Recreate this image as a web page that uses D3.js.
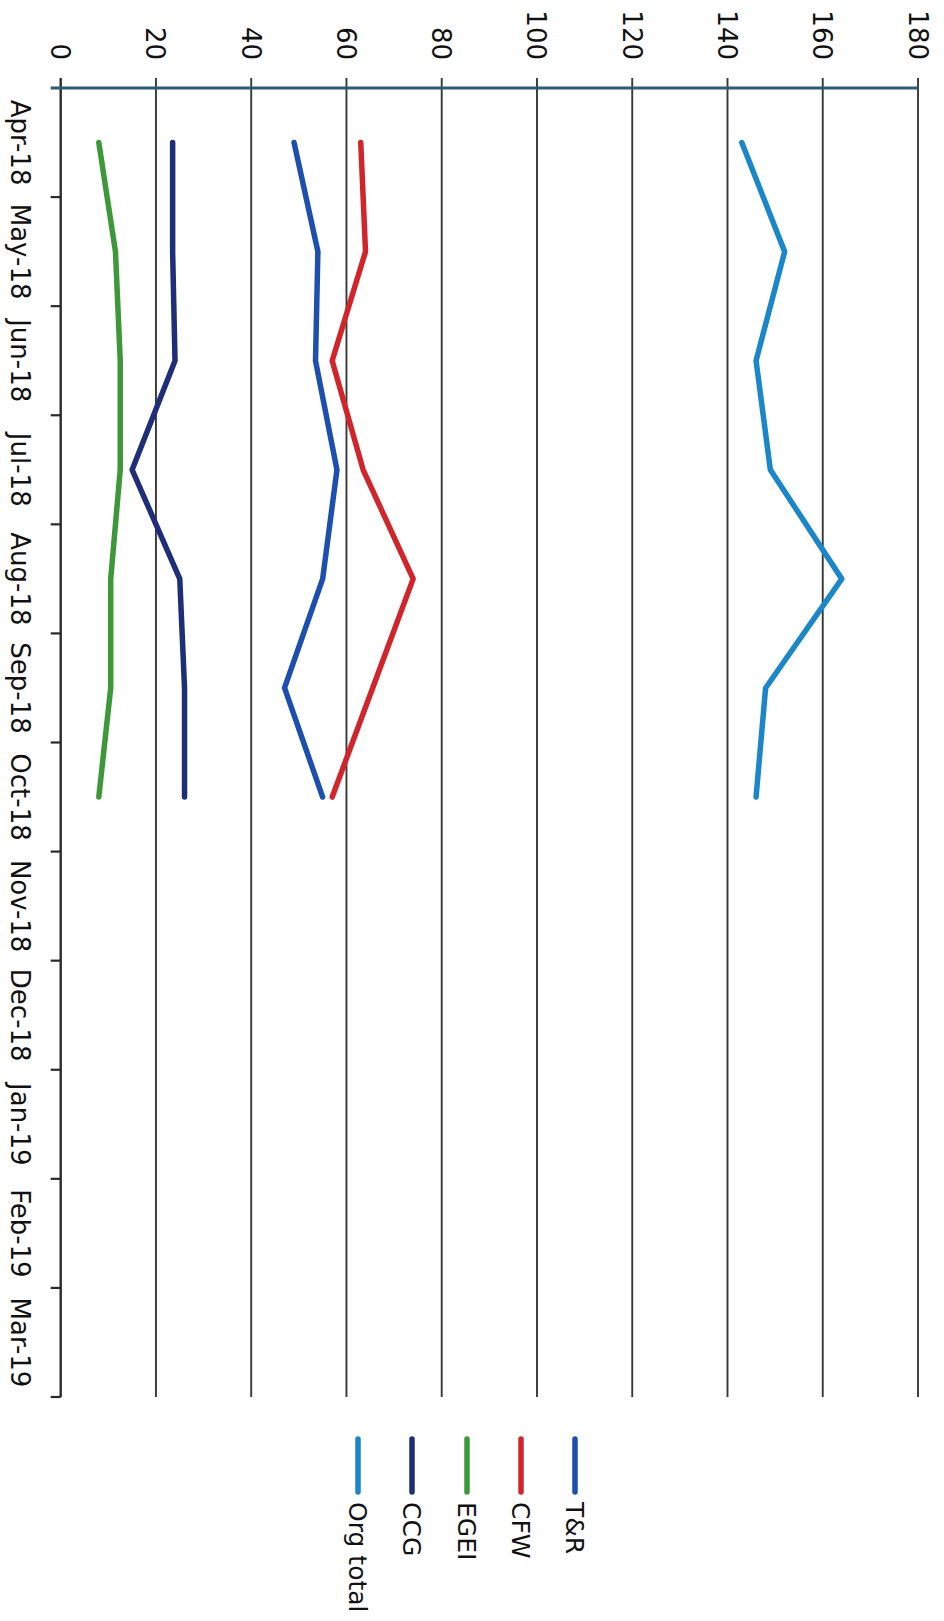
<!DOCTYPE html>
<html>
<head>
<meta charset="utf-8">
<script src="https://cdn.jsdelivr.net/npm/d3@7/dist/d3.min.js"></script>
<style>
  html, body { margin: 0; padding: 0; background: #fff; }
  svg { display: block; }
  text { font-family: "DejaVu Sans", sans-serif; fill: #111; }
</style>
</head>
<body>
<svg id="chart" width="944" height="1621"></svg>
<script>
// Monthly headcount by team, drawn turned a quarter clockwise:
// months run down the page, values run across.
const months = ["Apr-18", "May-18", "Jun-18", "Jul-18", "Aug-18", "Sep-18",
                "Oct-18", "Nov-18", "Dec-18", "Jan-19", "Feb-19", "Mar-19"];
const valueTicks = [0, 20, 40, 60, 80, 100, 120, 140, 160, 180];

const seriesNames = ["T&R", "CFW", "EGEI", "CCG", "Org total"];
const seriesColors = ["#1d4fae", "#d1252c", "#3d983a", "#1f2e78", "#1b87c8"];

const tandR    = [49, 54, 53.5, 58, 55, 47, 55, null, null, null, null, null];
const cfw      = [63, 64, 57, 63.5, 74, 65.5, 57, null, null, null, null, null];
const egei     = [8, 11.5, 12.5, 12.5, 10.5, 10.5, 8, null, null, null, null, null];
const ccg      = [23.5, 23.5, 24, 15, 25, 26, 26, null, null, null, null, null];
const orgTotal = [143, 152, 146, 149, 164, 148, 146, null, null, null, null, null];

const seriesValues = [tandR, cfw, egei, ccg, orgTotal];

const svg = d3.select("#chart");
svg.append("rect").attr("width", 944).attr("height", 1621).attr("fill", "#fff");

const plotTop = 88, plotBottom = 1397;
const x = d3.scaleLinear().domain([0, 180]).range([60.7, 918]);
const y = d3.scaleBand().domain(months).range([plotTop, plotBottom]).padding(0);
const yc = m => y(m) + y.bandwidth() / 2;

// Value gridlines (with short outside ticks above the axis line)
svg.append("g").selectAll("line").data(valueTicks.slice(1)).join("line")
  .attr("x1", d => x(d)).attr("x2", d => x(d))
  .attr("y1", plotTop - 10).attr("y2", plotBottom)
  .attr("stroke", "#383838").attr("stroke-width", 1.9);

// Value tick labels, reading downward
svg.append("g").selectAll("text").data(valueTicks).join("text")
  .attr("transform", d => `translate(${x(d) - 9.5},60) rotate(90)`)
  .attr("text-anchor", "end")
  .attr("font-size", 26)
  .text(d => d);

// Category axis line with ticks at band boundaries
const catAxis = svg.append("g");
catAxis.append("line")
  .attr("x1", x(0)).attr("x2", x(0))
  .attr("y1", plotTop - 10).attr("y2", plotBottom)
  .attr("stroke", "#2a2a2a").attr("stroke-width", 2.4);
const bounds = months.map(m => y(m)).concat([plotBottom]);
catAxis.selectAll("line.tk").data(bounds.slice(1)).join("line")
  .attr("class", "tk")
  .attr("x1", x(0) - 10).attr("x2", x(0))
  .attr("y1", d => d).attr("y2", d => d)
  .attr("stroke", "#2a2a2a").attr("stroke-width", 2.2);

// Value axis line across the top
svg.append("line")
  .attr("x1", x(0) - 10).attr("x2", x(180))
  .attr("y1", plotTop).attr("y2", plotTop)
  .attr("stroke", "#2f5c74").attr("stroke-width", 3.2);

// Month labels
svg.append("g").selectAll("text").data(months).join("text")
  .attr("transform", d => `translate(11,${yc(d)}) rotate(90)`)
  .attr("text-anchor", "middle")
  .attr("font-size", 26)
  .text(d => d);

// Series lines
const line = d3.line()
  .defined(d => d.v != null)
  .x(d => x(d.v))
  .y(d => yc(d.m));

seriesNames.forEach((name, i) => {
  const pts = months.map((m, j) => ({ m, v: seriesValues[i][j] }));
  svg.append("path")
    .datum(pts)
    .attr("d", line)
    .attr("fill", "none")
    .attr("stroke", seriesColors[i])
    .attr("stroke-width", 5.5)
    .attr("stroke-linejoin", "round")
    .attr("stroke-linecap", "round");
});

// Legend, stacked right to left below the plot
const legendX = [575, 521, 467, 412, 358];
const legend = svg.append("g");
seriesNames.forEach((name, i) => {
  legend.append("line")
    .attr("x1", legendX[i]).attr("x2", legendX[i])
    .attr("y1", 1439).attr("y2", 1492)
    .attr("stroke", seriesColors[i]).attr("stroke-width", 5.5)
    .attr("stroke-linecap", "round");
  legend.append("text")
    .attr("transform", `translate(${legendX[i] - 9},1502) rotate(90)`)
    .attr("text-anchor", "start")
    .attr("font-size", 25)
    .text(name);
});
</script>
</body>
</html>
